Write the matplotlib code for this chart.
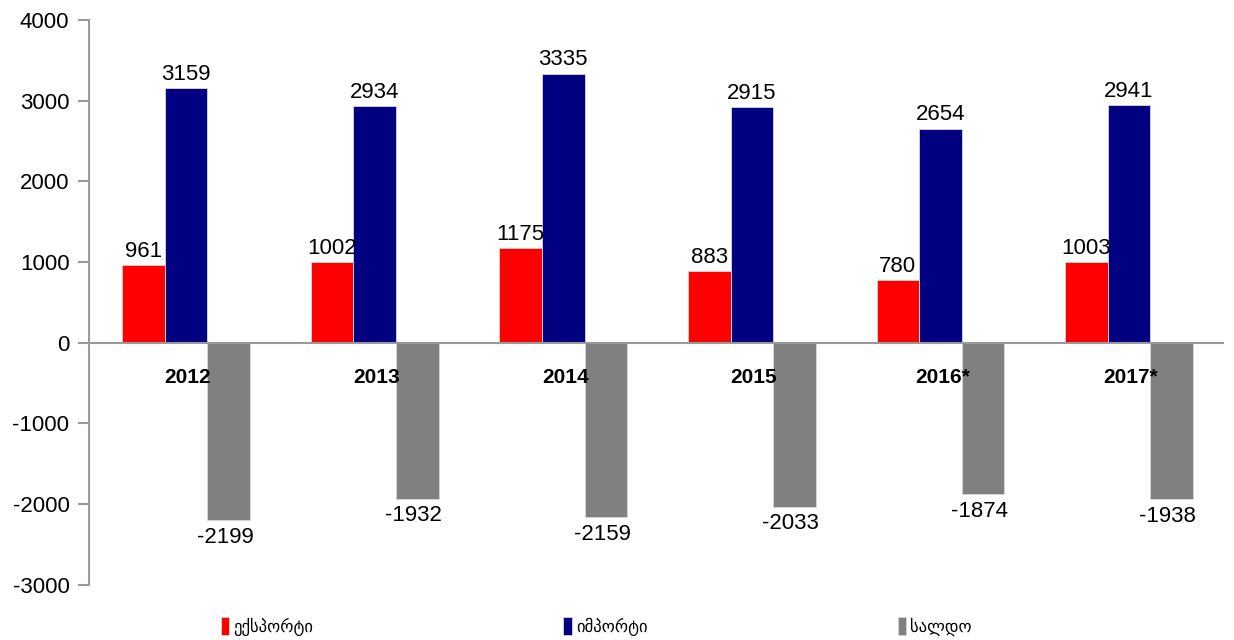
import matplotlib.pyplot as plt
import numpy as np

years = ['2012', '2013', '2014', '2015', '2016*', '2017*']
exports = [961, 1002, 1175, 883, 780, 1003]
imports = [3159, 2934, 3335, 2915, 2654, 2941]
balance = [-2199, -1932, -2159, -2033, -1874, -1938]
labels = ['ექსპორტი', 'იმპორტი', 'სალდო']
colors = ['#ff0000', '#000080', '#808080']

plt.rcParams['font.family'] = ['Liberation Sans', 'DejaVu Sans']
plt.rcParams['axes.unicode_minus'] = False

fig = plt.figure(figsize=(12.34, 6.4), dpi=100)
ax = fig.add_axes([0.072, 0.086, 0.92, 0.883])

x = np.arange(len(years))
w = 0.226
series = [exports, imports, balance]
for i, vals in enumerate(series):
    pos = x + (i - 1) * w
    ax.bar(pos, vals, w, color=colors[i], edgecolor='#d8d8d8', linewidth=0.6,
           label=labels[i], zorder=2)
    for p, v in zip(pos, vals):
        if v >= 0:
            ax.text(p, v + 40, str(v), ha='center', va='bottom', fontsize=16)
        else:
            ax.text(p - 0.02, v - 80, str(v), ha='center', va='top', fontsize=16)

for xi, y in zip(x, years):
    ax.text(xi + 0.01, -430, y, ha='center', va='center', fontsize=15, fontweight='bold')

ax.axhline(0, color='#999999', linewidth=1.5, zorder=3)
ax.set_xlim(-0.516, len(years) - 0.496)
ax.set_ylim(-3000, 4000)
ax.set_yticks(range(-3000, 4001, 1000))
ax.tick_params(axis='y', labelsize=16, length=8, width=1.5, color='#999999', pad=6)
ax.set_xticks([])
for s in ['top', 'right', 'bottom']:
    ax.spines[s].set_visible(False)
ax.spines['left'].set_color('#999999')
ax.spines['left'].set_linewidth(1.5)

ax.legend(loc='upper center', bbox_to_anchor=(0.447, -0.03), ncol=3, frameon=False,
          fontsize=12, handlelength=0.5, handleheight=1.3, handletextpad=0.25,
          columnspacing=15.0)

fig.savefig('out.png', dpi=100)
